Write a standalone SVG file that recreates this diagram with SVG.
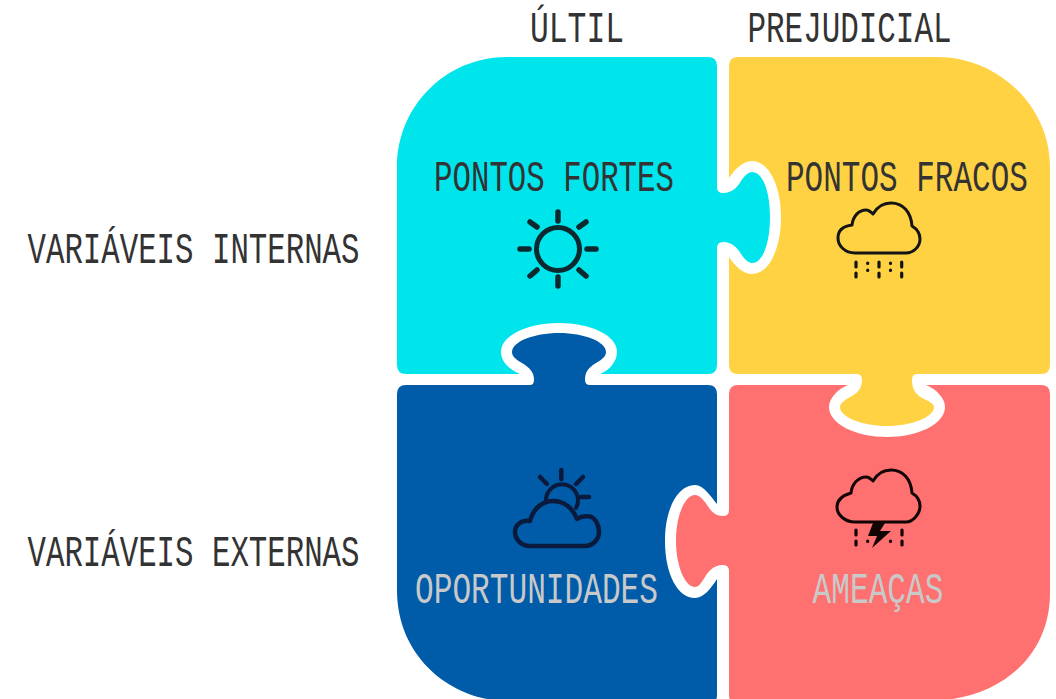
<svg xmlns="http://www.w3.org/2000/svg" width="1056" height="699" viewBox="0 0 1056 699">
<style>
text{font-family:"Liberation Mono",monospace;font-size:44px;fill:#333}
.light{fill:#c9c9c9}
.ico{fill:none;stroke-linecap:round;stroke-linejoin:round}
</style>
<rect width="1056" height="699" fill="#fff"/>
<g id="node-pontos-fortes">
<path fill="#00e5ec" d="M507 57H708Q717 57 717 66V187Q717 193 723 193C733 193 738 186 741 181C745 175 749 172 752 172C763 172 770 192 770 217C770 243 763 263 752 263C749 263 745 260 741 254C738 249 733 242 723 242Q717 242 717 248V365Q717 374 708 374H600C610 370 617 361 617 352C617 335 590 323 559 323C528 323 501 335 501 352C501 362 510 370 520 374H406Q397 374 397 365V167C397 106 446 57 507 57Z"/>
<text x="434" y="191" textLength="240" lengthAdjust="spacingAndGlyphs">PONTOS FORTES</text>
<g class="ico" stroke="#0b2a30">
<circle cx="558" cy="249" r="21.5" stroke-width="5"/>
<path stroke-width="5.5" d="M558 212V221M558 277V286M520 249H529M587 249H596M530 222L537 227M586 222L579 227M530 276L537 270M586 276L579 270"/>
</g>
</g>
<g id="node-pontos-fracos">
<path fill="#ffd244" d="M738 57H937C998 57 1050 106 1050 167V365Q1050 374 1041 374H917Q912 374 912 380C912 390 916 395 924 399C930 402 934 404 934 407C934 417 912 426 887 426C862 426 840 417 840 407C840 404 843 401 850 397C858 393 862 388 862 380Q862 374 857 374H738Q729 374 729 365V257C735 266 743 274 752 274C769 274 781 249 781 217C781 186 769 161 752 161C743 161 735 169 729 178V66Q729 57 738 57Z"/>
<text transform="translate(786 191) scale(.705 1)">PONTOS FRACOS</text>
<g class="ico" stroke="#141414">
<path stroke-width="3" d="M855 253C845 253 838 246 838 238C838 230 844 226 852 225C853 216 859 210 866 210C869 210 871 212 873 214C877 207 884 203 891 203C903 203 911 212 912 226C917 229 920 234 920 239C920 247 913 253 906 253Z"/>
<path stroke-width="3.2" d="M856 262V267M856 273V277M867.7 263V263.5M867.7 270V270.5M879 262V267M879 273V277M890.5 263V263.5M890.5 270V270.5M901.7 262V267M901.7 273V277"/>
</g>
</g>
<g id="node-oportunidades">
<path fill="#005ca8" d="M406 385H530Q534 385 534 380C534 372 530 368 522 363C515 359 512 356 512 352C512 342 533 333 559 333C585 333 606 342 606 352C606 356 603 359 596 363C588 368 585 372 585 380Q585 385 590 385H708Q717 385 717 394V504C711 497 704 485 695 485C678 485 665 508 665 541C665 575 678 598 695 598C704 598 711 588 717 579V695Q717 704 708 704H507L487 699C440 690 397 650 397 590V394Q397 385 406 385Z"/>
<text class="light" x="415" y="603" textLength="243" lengthAdjust="spacingAndGlyphs">OPORTUNIDADES</text>
<g class="ico" stroke="#0a1a3c">
<path stroke-width="4.5" d="M530 546C521 546 515 539 515 532C515 525 521 520 530 521C533 509 542 501 553 501C565 501 573 509 577 519C581 516 590 515 593 518C596 520 599 526 599 532C599 540 592 546 585 546Z"/>
<path stroke-width="4" d="M546 501A16 16 0 1 1 576 508"/>
<path stroke-width="4.5" d="M561.3 470V479M540 477L547 484M583 477L576 484M581 497H589"/>
</g>
</g>
<g id="node-ameacas">
<path fill="#ff7070" d="M738 385H848C838 389 829 398 829 407C829 424 856 437 887 437C918 437 945 424 945 407C945 398 936 389 926 385H1041Q1050 385 1050 394V593C1050 650 1010 690 953 699L933 704H738Q729 704 729 695V571Q729 565 723 565C713 565 708 572 705 577C701 583 699 587 695 587C685 587 676 566 676 541C676 515 685 495 695 495C699 495 703 499 707 505C711 511 715 516 723 516Q729 516 729 510V394Q729 385 738 385Z"/>
<text class="light" x="812.5" y="603" textLength="131" lengthAdjust="spacingAndGlyphs">AMEAÇAS</text>
<g class="ico" stroke="#120404">
<path stroke-width="3" d="M855 522C845 522 837 515 837 507C837 499 844 495 851 493C852 483 859 477 866 477C869 477 871 479 873 481C877 474 884 470 891 470C903 470 911 479 912 493C917 496 920 501 920 506C920 514 913 522 906 522Z"/>
<path stroke-width="3.2" d="M856 530V535M856 541V545M867.7 541V541.5M890.5 541V541.5M902 530V535M902 541V545"/>
</g>
<polygon fill="#120404" points="873,523 885,523 880,531 891,531 872,548 877,536 868,536"/>
</g>
<g id="column-labels">
<text x="530" y="42" textLength="94" lengthAdjust="spacingAndGlyphs">ÚLTIL</text>
<text x="747.5" y="42" textLength="204" lengthAdjust="spacingAndGlyphs">PREJUDICIAL</text>
</g>
<g id="row-labels">
<text x="27.5" y="263" textLength="332" lengthAdjust="spacingAndGlyphs">VARIÁVEIS INTERNAS</text>
<text x="27.5" y="566" textLength="332" lengthAdjust="spacingAndGlyphs">VARIÁVEIS EXTERNAS</text>
</g>
<g id="connectors"/>
</svg>
